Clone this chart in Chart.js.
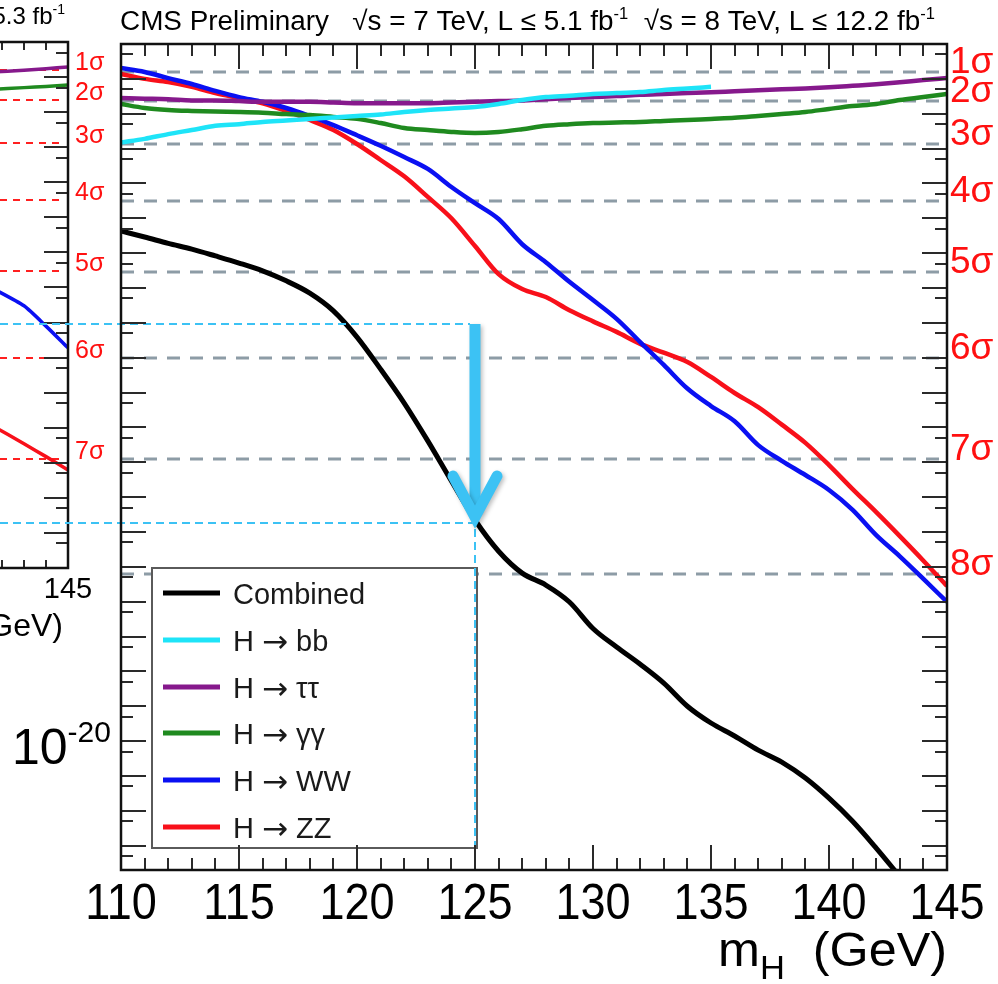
<!DOCTYPE html>
<html><head><meta charset="utf-8">
<script src="https://cdn.jsdelivr.net/npm/chart.js@4.4.1/dist/chart.umd.min.js"></script>
<style>
html,body{margin:0;padding:0;background:#fff;overflow:hidden;width:998px;height:984px;}
#wrap{position:relative;width:998px;height:984px;overflow:hidden;background:#fff;}
#frag{position:absolute;left:-712px;top:0;}
#main{position:absolute;left:0;top:0;}
</style></head><body>
<div id="wrap">
<canvas id="frag" width="832" height="984"></canvas>
<canvas id="main" width="998" height="984"></canvas>
</div>
<script>
// ---------------- data ----------------
const masses = [110,111,112,113,114,115,116,117,118,119,120,121,122,123,124,125,126,127,128,129,130,131,132,133,134,135,136,137,138,139,140,141,142,143,144,145];
const combined = [4.3e-6,2.9e-6,1.9e-6,1.3e-6,8.3e-7,5.2e-7,3.1e-7,1.6e-7,7.1e-8,2.2e-8,3.9e-9,4.7e-10,5.0e-11,4.1e-12,2.9e-13,2.2e-14,2.8e-15,6.6e-16,3.0e-16,9.8e-17,1.7e-17,5.0e-18,1.6e-18,4.6e-19,1.0e-19,3.3e-20,1.4e-20,5.5e-21,2.5e-21,8.7e-22,2.3e-22,5.0e-23,8.5e-24,1.3e-24,null,null];
const hbb = [1.5e-3,1.9e-3,2.6e-3,3.4e-3,4.5e-3,5.0e-3,5.8e-3,6.4e-3,7.1e-3,7.8e-3,8.6e-3,9.5e-3,0.0112,0.0128,0.0141,0.0155,0.019,0.0247,0.030,0.033,0.037,0.039,0.042,0.048,0.053,0.059,null,null,null,null,null,null,null,null,null,null];
const htautau = [0.028,0.027,0.026,0.024,0.024,0.023,0.022,0.022,0.022,0.021,0.020,0.020,0.020,0.020,0.021,0.022,0.023,0.024,0.026,0.028,0.030,0.032,0.035,0.037,0.039,0.041,0.044,0.047,0.050,0.053,0.057,0.063,0.070,0.080,0.092,0.105];
const hgg = [0.019,0.0146,0.0128,0.0120,0.0115,0.0112,0.0107,0.0098,0.0092,0.0081,0.0071,0.0054,0.0039,0.0034,0.0030,0.0028,0.0030,0.0036,0.0045,0.0050,0.0054,0.0056,0.0058,0.0062,0.0066,0.0071,0.0076,0.0086,0.0098,0.0112,0.0137,0.0166,0.019,0.0247,0.030,0.037];
const hww = [0.204,0.158,0.105,0.071,0.045,0.030,0.022,0.0146,8.6e-3,4.7e-3,2.4e-3,1.2e-3,5.7e-4,2.6e-4,7.9e-5,2.7e-5,9.5e-6,1.8e-6,5.5e-7,1.5e-7,4.5e-8,1.3e-8,2.8e-9,6.2e-10,1.3e-10,4.1e-11,1.5e-11,3.1e-12,1.1e-12,4.3e-13,1.6e-13,4.3e-14,8.1e-15,2.0e-15,4.5e-16,9.8e-17];
const hzz = [0.138,0.100,0.081,0.059,0.039,0.028,0.020,0.012,6.6e-3,3.4e-3,1.35e-3,4.7e-4,1.6e-4,4.1e-5,1.0e-5,1.6e-6,2.5e-7,9.3e-8,5.5e-8,2.3e-8,1.1e-8,5.5e-9,2.5e-9,1.4e-9,7.5e-10,2.8e-10,9.7e-11,3.8e-11,1.2e-11,3.6e-12,8.3e-13,1.7e-13,3.7e-14,7.6e-15,1.5e-15,2.8e-16];

const seriesNames = ['Combined','H \u2192 bb','H \u2192 \u03c4\u03c4','H \u2192 \u03b3\u03b3','H \u2192 WW','H \u2192 ZZ'];
const seriesColors = ['#000000','#1ee4f8','#86198c','#1f8a1f','#0a10f2','#f8101a'];

const sigmaNames = ['1\u03c3','2\u03c3','3\u03c3','4\u03c3','5\u03c3','6\u03c3','7\u03c3','8\u03c3'];
const sigmaP = [1.587e-1,2.275e-2,1.350e-3,3.167e-5,2.867e-7,9.866e-10,1.280e-12,6.221e-16];

const xTickStep = 5;
const yLabelExponent = '-20';
const markMass = 125;
const markUpperP = 9.3e-9;
const markLowerP = 1.8e-14;
const markTipP = 2.2e-14;

// fragment of the neighbouring plot (only its right end is visible)
const fragMasses = [141.5,143,144,145];
const fragTauTau = [0.14,0.156,0.174,0.193];
const fragGG = [0.044,0.050,0.054,0.059];
const fragWW = [1.0e-7,3.0e-8,7.9e-9,1.9e-9];
const fragZZ = [1.2e-11,3.5e-12,1.5e-12,6.2e-13];
const fragTickLabel = '145';

// ---------------- helpers ----------------
const FAM = '"Liberation Sans", Arial, Helvetica, sans-serif';
function drawRich(ctx, parts, x, y, opt) {
  opt = opt || {};
  ctx.save();
  ctx.textBaseline = 'alphabetic';
  ctx.textAlign = 'left';
  ctx.fillStyle = opt.color || '#000';
  let total = 0;
  for (const p of parts) { ctx.font = p.size + 'px ' + (p.fam || FAM); p.w = ctx.measureText(p.t).width; total += p.w; }
  const sx = opt.width ? opt.width / total : (opt.sx || 1);
  const x0 = opt.align === 'right' ? x - total * sx : (opt.align === 'center' ? x - total * sx / 2 : x);
  ctx.translate(x0, y);
  ctx.scale(sx, 1);
  let cx = 0;
  for (const p of parts) { ctx.font = p.size + 'px ' + (p.fam || FAM); ctx.fillText(p.t, cx, p.dy || 0); cx += p.w; }
  ctx.restore();
}
function pts(xs, ys) { const o = []; xs.forEach((m, i) => { if (ys[i] !== null) o.push({x: m, y: ys[i]}); }); return o; }
function legendParts(name) {
  const i = name.indexOf('\u2192');
  if (i < 0) return [{t: name, size: 29}];
  return [{t: name.slice(0, i), size: 29}, {t: '\u2192', size: 31, fam: '"DejaVu Sans", sans-serif', dy: 1}, {t: name.slice(i + 1), size: 29}];
}

// ---------------- main chart ----------------
const mainDecor = {
  id: 'mainDecor',
  beforeDatasetsDraw(chart) {
    const {ctx, chartArea: a, scales: {y}} = chart;
    ctx.save();
    ctx.strokeStyle = '#8d9ca6'; ctx.lineWidth = 3; ctx.setLineDash([13, 10]);
    sigmaP.forEach(p => {
      const py = Math.round(y.getPixelForValue(p));
      ctx.beginPath(); ctx.moveTo(a.left, py); ctx.lineTo(a.right, py); ctx.stroke();
    });
    ctx.restore();
  },
  afterDatasetsDraw(chart) {
    const {ctx, chartArea: a, scales: {x, y}} = chart;
    // legend
    ctx.save();
    const L = 152, T = 568, R = 477, B = 848;
    ctx.fillStyle = '#fff'; ctx.fillRect(L, T, R - L, B - T);
    ctx.strokeStyle = '#5a5a5a'; ctx.lineWidth = 2; ctx.strokeRect(L, T, R - L, B - T);
    const rowY = [593, 640, 687, 733, 780, 827];
    seriesNames.forEach((n, i) => {
      ctx.strokeStyle = seriesColors[i]; ctx.lineWidth = 5; ctx.setLineDash([]);
      ctx.beginPath(); ctx.moveTo(163, rowY[i]); ctx.lineTo(220, rowY[i]); ctx.stroke();
      drawRich(ctx, legendParts(n), 233, rowY[i] + 11, {color: '#1a1a1a'});
    });
    ctx.restore();
    // cyan annotation
    ctx.save();
    const cyan = '#3cc2f4';
    const px = x.getPixelForValue(markMass);
    const yU = y.getPixelForValue(markUpperP), yLo = y.getPixelForValue(markLowerP), yT = y.getPixelForValue(markTipP);
    ctx.strokeStyle = cyan; ctx.lineWidth = 2; ctx.setLineDash([8, 5]);
    ctx.beginPath(); ctx.moveTo(0, yU); ctx.lineTo(px - 5, yU); ctx.stroke();
    ctx.beginPath(); ctx.moveTo(0, yLo); ctx.lineTo(px, yLo); ctx.lineTo(px, a.bottom); ctx.stroke();
    ctx.setLineDash([]);
    ctx.shadowColor = 'rgba(0,0,0,0.25)'; ctx.shadowBlur = 4; ctx.shadowOffsetX = 2; ctx.shadowOffsetY = 2;
    ctx.lineWidth = 11; ctx.lineCap = 'butt';
    ctx.beginPath(); ctx.moveTo(px, yU); ctx.lineTo(px, yT - 8); ctx.stroke();
    ctx.lineCap = 'round'; ctx.lineJoin = 'miter';
    ctx.beginPath(); ctx.moveTo(px - 22, yT - 44); ctx.lineTo(px, yT - 3); ctx.lineTo(px + 22, yT - 44); ctx.stroke();
    ctx.restore();
  },
  afterDraw(chart) {
    const {ctx, chartArea: a, scales: {x, y}} = chart;
    ctx.save();
    // ticks
    ctx.strokeStyle = '#2a2a2a'; ctx.lineWidth = 2;
    for (let m = Math.ceil(x.min) + 1; m < x.max; m++) {
      const px = Math.round(x.getPixelForValue(m));
      const len = (m % 5 === 0) ? 25 : 12;
      ctx.beginPath(); ctx.moveTo(px, a.bottom); ctx.lineTo(px, a.bottom - len);
      ctx.moveTo(px, a.top); ctx.lineTo(px, a.top + len); ctx.stroke();
    }
    for (let n = 0; n >= -24; n--) {
      const maj = Number('1e' + n), mn = Number('5e' + (n - 1));
      [[maj, 25], [mn, 12]].forEach(([v, len]) => {
        if (v > y.max || v < y.min) return;
        const py = Math.round(y.getPixelForValue(v));
        if (py <= a.top + 1 || py >= a.bottom - 1) return;
        ctx.beginPath(); ctx.moveTo(a.left, py); ctx.lineTo(a.left + len, py);
        ctx.moveTo(a.right, py); ctx.lineTo(a.right - len, py); ctx.stroke();
      });
    }
    // frame
    ctx.strokeStyle = '#111'; ctx.lineWidth = 2.5;
    ctx.strokeRect(a.left, a.top, a.right - a.left, a.bottom - a.top);
    ctx.restore();
    // x tick labels from the scale's ticks
    x.ticks.forEach(t => {
      drawRich(ctx, [{t: String(t.value), size: 50}], x.getPixelForValue(t.value), 919, {align: 'center', sx: 0.9});
    });
    // sigma labels
    sigmaP.forEach((p, i) => {
      const py = y.getPixelForValue(p);
      drawRich(ctx, [{t: sigmaNames[i], size: 37}], a.right + 3, py + 1, {color: '#ff1010'});
    });
    // y label 10^-20
    drawRich(ctx, [{t: '10', size: 50}, {t: yLabelExponent, size: 30, dy: -22}], 12, y.getPixelForValue(1e-20) + 23, {});
    // title
    drawRich(ctx, [
      {t: 'CMS Preliminary   \u221as = 7 TeV, L \u2264 5.1 fb', size: 27},
      {t: '-1', size: 16, dy: -11},
      {t: '  \u221as = 8 TeV, L \u2264 12.2 fb', size: 27},
      {t: '-1', size: 16, dy: -11}
    ], 120, 30, {width: 815});
    // x title
    drawRich(ctx, [{t: 'm', size: 48}, {t: 'H', size: 33, dy: 13}, {t: '  (GeV)', size: 48}], a.right, 966, {align: 'right', width: 229});
  }
};

const mainDatasets = [combined, hbb, htautau, hgg, hww, hzz].map((vals, i) => ({
  label: seriesNames[i],
  data: pts(masses, vals),
  borderColor: seriesColors[i],
  backgroundColor: seriesColors[i],
  borderWidth: i === 0 ? 5 : 4.5,
  pointRadius: 0,
  cubicInterpolationMode: 'monotone',
  fill: false,
  clip: 0
}));

new Chart(document.getElementById('main'), {
  type: 'line',
  data: {datasets: mainDatasets},
  options: {
    responsive: false, animation: false, devicePixelRatio: 1,
    layout: {padding: {left: 121, right: 51, top: 44, bottom: 0}},
    plugins: {legend: {display: false}, tooltip: {enabled: false}, title: {display: false}},
    scales: {
      x: {
        type: 'linear', min: 110, max: 145,
        grid: {display: false}, border: {display: false},
        ticks: {stepSize: xTickStep, display: false, autoSkip: false},
        afterFit(s) { s.height = 114; }
      },
      y: {type: 'logarithmic', min: 2e-24, max: 1, display: false}
    }
  },
  plugins: [mainDecor]
});

// ---------------- fragment of neighbouring plot ----------------
const fragDecor = {
  id: 'fragDecor',
  beforeDatasetsDraw(chart) {
    const {ctx, chartArea: a, scales: {y}} = chart;
    ctx.save();
    ctx.strokeStyle = '#ff2020'; ctx.lineWidth = 2; ctx.setLineDash([7, 6]);
    sigmaP.forEach(p => {
      if (p < y.min) return;
      const py = Math.round(y.getPixelForValue(p));
      ctx.beginPath(); ctx.moveTo(a.left, py); ctx.lineTo(a.right - 5, py); ctx.stroke();
    });
    ctx.restore();
  },
  afterDraw(chart) {
    const {ctx, chartArea: a, scales: {x, y}} = chart;
    ctx.save();
    ctx.strokeStyle = '#2a2a2a'; ctx.lineWidth = 2;
    for (let m = Math.ceil(x.min) + 1; m < x.max; m++) {
      const px = Math.round(x.getPixelForValue(m));
      const len = (m % 5 === 0) ? 16 : 8;
      ctx.beginPath(); ctx.moveTo(px, a.bottom); ctx.lineTo(px, a.bottom - len);
      ctx.moveTo(px, a.top); ctx.lineTo(px, a.top + len); ctx.stroke();
    }
    for (let n = 0; n >= -16; n--) {
      const maj = Number('1e' + n), mn = Number('5e' + (n - 1));
      [[maj, 24], [mn, 12]].forEach(([v, len]) => {
        if (v > y.max || v < y.min) return;
        const py = Math.round(y.getPixelForValue(v));
        if (py <= a.top + 1 || py >= a.bottom - 1) return;
        ctx.beginPath(); ctx.moveTo(a.right, py); ctx.lineTo(a.right - len, py); ctx.stroke();
      });
    }
    ctx.strokeStyle = '#111'; ctx.lineWidth = 2.5;
    ctx.strokeRect(a.left, a.top, a.right - a.left, a.bottom - a.top);
    ctx.restore();
    sigmaP.forEach((p, i) => {
      if (p < y.min) return;
      drawRich(ctx, [{t: sigmaNames[i], size: 25}], a.right + 7, y.getPixelForValue(p), {color: '#ff1010'});
    });
    drawRich(ctx, [{t: fragTickLabel, size: 29}], x.getPixelForValue(145), 598, {align: 'center'});
    drawRich(ctx, [{t: 'm', size: 32}, {t: 'H', size: 21, dy: 9}, {t: ' (GeV)', size: 32}], a.right - 5, 636, {align: 'right'});
    drawRich(ctx, [
      {t: 'CMS Preliminary   \u221as = 7 TeV, L = 5.1 fb', size: 24},
      {t: '-1', size: 14, dy: -10},
      {t: '  \u221as = 8 TeV, L = 5.3 fb', size: 24},
      {t: '-1', size: 14, dy: -10}
    ], a.right - 3, 24, {align: 'right'});
  }
};

const fragDatasets = [[fragTauTau, 2], [fragGG, 3], [fragWW, 4], [fragZZ, 5]].map(([vals, ci]) => ({
  label: seriesNames[ci],
  data: pts(fragMasses, vals),
  borderColor: seriesColors[ci],
  borderWidth: 3.5,
  pointRadius: 0,
  tension: 0.2,
  fill: false,
  clip: 0
}));

new Chart(document.getElementById('frag'), {
  type: 'line',
  data: {datasets: fragDatasets},
  options: {
    responsive: false, animation: false, devicePixelRatio: 1,
    layout: {padding: {left: 10, right: 52, top: 42, bottom: 416}},
    plugins: {legend: {display: false}, tooltip: {enabled: false}},
    scales: {
      x: {type: 'linear', min: 110, max: 145, display: false},
      y: {type: 'logarithmic', min: 1e-15, max: 1, display: false}
    }
  },
  plugins: [fragDecor]
});
</script>
</body></html>
